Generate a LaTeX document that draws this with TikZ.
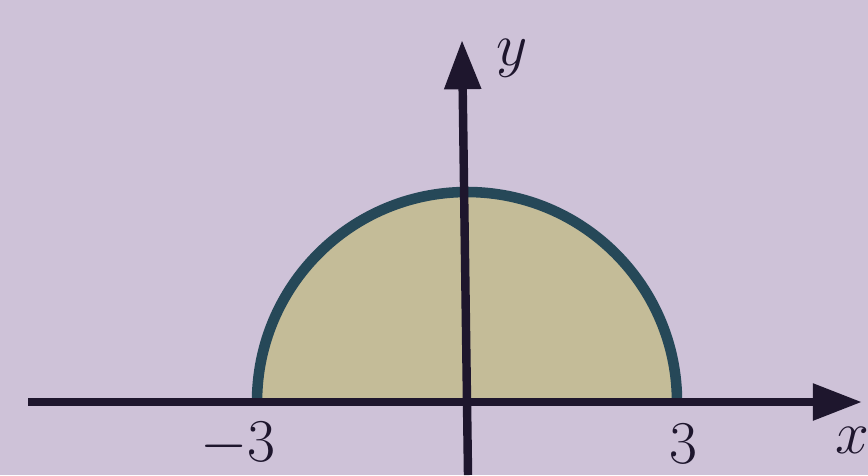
\documentclass[tikz,border=0pt]{standalone}
\usepackage{xcolor}
\usetikzlibrary{arrows.meta}
\definecolor{paper}{RGB}{206,194,216}
\definecolor{areafill}{RGB}{196,188,152}
\definecolor{rim}{RGB}{38,72,88}
\definecolor{ink}{RGB}{30,22,45}
\tikzset{
  axis/.style={ink, line width=2.4pt, -{Triangle[length=14pt, width=10pt]}},
  lbl/.style={ink, font=\fontsize{18}{22}\selectfont},
  halfdisc/.style={fill=areafill, draw=rim, line width=3pt},
}
\begin{document}
\begin{tikzpicture}[x=0.01cm, y=-0.01cm]
\fill[paper] (0,0) rectangle (868,475);
\useasboundingbox (0,0) rectangle (868,475);

\coordinate (O) at (466,402);
\coordinate (xl) at (28,402);
\coordinate (xr) at (862,402);
\coordinate (yb) at (468,475);
\coordinate (yt) at (462,40);

\draw[halfdisc] (257,402) arc[start angle=180, end angle=360, radius=210];

\draw[axis] (xl) -- (xr);
\draw[axis] (yb) -- (yt);

\node[lbl] (mthree) at (238,444) {$-3$};
\node[lbl] (three) at (683,444) {$3$};
\node[lbl] (xlab) at (852,440) {$x$};
\node[lbl] (ylab) at (512,58) {$y$};
\end{tikzpicture}
\end{document}
